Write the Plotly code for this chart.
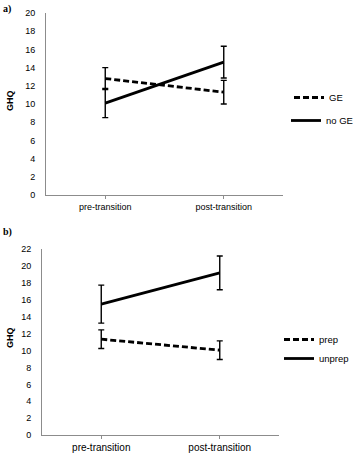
import plotly.graph_objects as go

categories = ["pre-transition", "post-transition"]

# Panel a
ge_vals = [12.8, 11.3]
ge_err = [1.2, 1.3]
noge_vals = [10.1, 14.6]
noge_err = [1.6, 1.75]
yticks_a = list(range(0, 21, 2))

# Panel b
prep_vals = [11.35, 10.05]
prep_err = [1.1, 1.1]
unprep_vals = [15.5, 19.2]
unprep_err = [2.25, 2.0]
yticks_b = list(range(0, 23, 2))

W, H = 356, 454
def px_x(p):
    return p / W
def px_y(p):
    return (H - p) / H

fig = go.Figure()
xs = [0, 1]
line_w = 2.8
dash = "6px,3px"
err_style = dict(type="data", color="black", thickness=1.4, width=3, visible=True)

fig.add_trace(go.Scatter(x=xs, y=ge_vals, mode="lines", name="GE",
                         line=dict(color="black", width=line_w, dash=dash),
                         error_y=dict(array=ge_err, **err_style),
                         xaxis="x", yaxis="y", legend="legend"))
fig.add_trace(go.Scatter(x=xs, y=noge_vals, mode="lines", name="no GE",
                         line=dict(color="black", width=line_w),
                         error_y=dict(array=noge_err, **err_style),
                         xaxis="x", yaxis="y", legend="legend2"))
fig.add_trace(go.Scatter(x=xs, y=prep_vals, mode="lines", name="prep",
                         line=dict(color="black", width=line_w, dash=dash),
                         error_y=dict(array=prep_err, **err_style),
                         xaxis="x2", yaxis="y2", legend="legend3"))
fig.add_trace(go.Scatter(x=xs, y=unprep_vals, mode="lines", name="unprep",
                         line=dict(color="black", width=line_w),
                         error_y=dict(array=unprep_err, **err_style),
                         xaxis="x2", yaxis="y2", legend="legend4"))

axis_color = "#8c8c8c"
def tickfont(size):
    return dict(family="Liberation Sans, Arial, sans-serif", size=size, color="black")

def xaxis_cfg(d0, d1, anchor, fs):
    return dict(domain=[d0, d1], range=[-0.5, 1.5], tickmode="array",
                tickvals=xs, ticktext=categories, showgrid=False, zeroline=False,
                showline=True, linecolor=axis_color, linewidth=1,
                ticks="outside", ticklen=3, tickcolor=axis_color,
                tickfont=tickfont(fs), anchor=anchor, fixedrange=True)

def yaxis_cfg(d0, d1, rng, ticks, anchor):
    return dict(domain=[d0, d1], range=rng, tickmode="array", tickvals=ticks,
                showgrid=False, zeroline=False, showline=True, linecolor=axis_color,
                linewidth=1, ticks="", tickfont=tickfont(9), ticklabelstandoff=8,
                anchor=anchor, fixedrange=True)

legend_font = dict(family="Liberation Sans, Arial, sans-serif", size=9.5, color="black")
def leg(xp, top):
    return dict(x=px_x(xp), y=px_y(top), xanchor="left", yanchor="top",
                font=legend_font, bgcolor="rgba(0,0,0,0)", itemwidth=30)

fig.update_layout(
    width=W, height=H,
    margin=dict(l=0, r=0, t=0, b=0, autoexpand=False),
    paper_bgcolor="white", plot_bgcolor="white",
    showlegend=True,
    xaxis=xaxis_cfg(px_x(46), px_x(283), "y", 9),
    yaxis=yaxis_cfg(px_y(195), px_y(13), [0, 20], yticks_a, "x"),
    xaxis2=xaxis_cfg(px_x(42), px_x(279), "y2", 10),
    yaxis2=yaxis_cfg(px_y(435), px_y(249.3), [0, 22], yticks_b, "x2"),
    legend=leg(289, 83),
    legend2=leg(286, 106),
    legend3=leg(279, 325),
    legend4=leg(279, 344),
    annotations=[
        dict(text="<b>a)</b>", x=px_x(1), y=px_y(9), xref="paper", yref="paper",
             xanchor="left", yanchor="middle", showarrow=False,
             font=dict(family="Liberation Serif, Times New Roman, serif", size=10, color="black")),
        dict(text="<b>b)</b>", x=px_x(1), y=px_y(232), xref="paper", yref="paper",
             xanchor="left", yanchor="middle", showarrow=False,
             font=dict(family="Liberation Serif, Times New Roman, serif", size=10, color="black")),
        dict(text="<b>GHQ</b>", x=px_x(10), y=px_y(101), xref="paper", yref="paper",
             xanchor="center", yanchor="middle", showarrow=False, textangle=-90,
             font=dict(family="Liberation Sans, Arial, sans-serif", size=9, color="black")),
        dict(text="<b>GHQ</b>", x=px_x(10), y=px_y(338), xref="paper", yref="paper",
             xanchor="center", yanchor="middle", showarrow=False, textangle=-90,
             font=dict(family="Liberation Sans, Arial, sans-serif", size=9, color="black")),
    ],
)

fig.write_html("out.html", config={"displayModeBar": False},
               post_script="document.body.style.margin='0';document.body.style.overflow='hidden';")
